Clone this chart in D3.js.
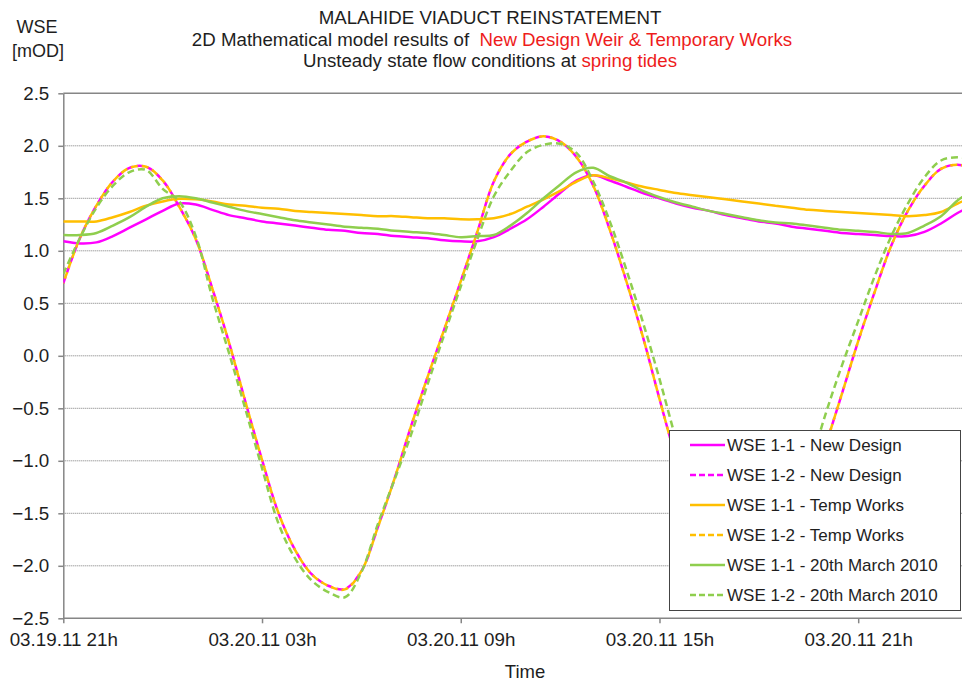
<!DOCTYPE html>
<html lang="en">
<head>
<meta charset="UTF-8">
<title>Malahide Viaduct Reinstatement</title>
<script src="https://d3js.org/d3.v7.min.js"></script>
<style>
  body { margin: 0; background: #fff; }
  svg { display: block; font-family: "Liberation Sans", Arial, sans-serif; }
  .grid line { stroke: #7a7a7a; stroke-width: 1; stroke-dasharray: 1,1; }
  .axis path, .axis line { stroke: #868686; stroke-width: 1.5; }
  .axis text { font-size: 18.8px; fill: #1e1e1e; font-family: "Liberation Sans", Arial, sans-serif; }
</style>
</head>
<body>
<svg id="chart" width="962" height="683"></svg>
<script>
// hours after 03.19.11 21h
var hours = [0, 0.5, 1, 1.5, 2, 2.5, 3, 3.5, 4, 4.5, 5, 5.5, 6, 6.5, 7, 7.5, 8, 8.5, 9, 9.5,
  10, 10.5, 11, 11.5, 12, 12.5, 13, 13.5, 14, 14.5, 15, 15.5, 16, 16.5, 17, 17.5, 18, 18.5, 19, 19.5,
  20, 20.5, 21, 21.5, 22, 22.5, 23, 23.5, 24, 24.5, 25, 25.5, 26, 26.5, 27, 27.5];

var wse11New = [1.09, 1.07, 1.08, 1.14, 1.22, 1.30, 1.38, 1.45, 1.44, 1.39, 1.34, 1.31, 1.28, 1.26, 1.24, 1.22, 1.20, 1.19, 1.17, 1.16,
  1.14, 1.13, 1.12, 1.10, 1.09, 1.09, 1.13, 1.21, 1.30, 1.42, 1.55, 1.67, 1.72, 1.67, 1.61, 1.55, 1.50, 1.45, 1.41, 1.38,
  1.34, 1.31, 1.28, 1.26, 1.23, 1.21, 1.19, 1.17, 1.16, 1.15, 1.14, 1.14, 1.18, 1.26, 1.36, 1.44];

var wse12New = [0.69, 1.12, 1.43, 1.66, 1.79, 1.80, 1.67, 1.42, 1.11, 0.64, 0.13, -0.44, -0.99, -1.50, -1.85, -2.08, -2.19, -2.22, -2.05, -1.63,
  -1.17, -0.67, -0.20, 0.25, 0.71, 1.18, 1.66, 1.92, 2.04, 2.09, 2.04, 1.89, 1.62, 1.20, 0.71, 0.18, -0.41, -0.98, -1.48, -1.82,
  -2.03, -2.16, -2.22, -2.14, -1.80, -1.36, -0.87, -0.37, 0.14, 0.61, 1.05, 1.38, 1.62, 1.78, 1.82, 1.78];

var wse11Temp = [1.28, 1.28, 1.28, 1.32, 1.37, 1.43, 1.47, 1.495, 1.49, 1.47, 1.44, 1.43, 1.41, 1.40, 1.38, 1.37, 1.36, 1.35, 1.34, 1.33,
  1.33, 1.32, 1.31, 1.31, 1.30, 1.30, 1.31, 1.35, 1.42, 1.49, 1.57, 1.66, 1.72, 1.69, 1.65, 1.61, 1.58, 1.55, 1.53, 1.51,
  1.49, 1.47, 1.45, 1.43, 1.41, 1.39, 1.38, 1.37, 1.36, 1.35, 1.34, 1.33, 1.34, 1.37, 1.45, 1.52];

var wse12Temp = [0.69, 1.12, 1.43, 1.66, 1.79, 1.80, 1.67, 1.42, 1.11, 0.64, 0.13, -0.44, -0.99, -1.50, -1.85, -2.08, -2.19, -2.225, -2.05, -1.63,
  -1.17, -0.67, -0.20, 0.25, 0.71, 1.18, 1.66, 1.92, 2.04, 2.09, 2.04, 1.89, 1.62, 1.20, 0.71, 0.18, -0.41, -0.98, -1.48, -1.82,
  -2.03, -2.16, -2.22, -2.14, -1.80, -1.36, -0.87, -0.37, 0.14, 0.61, 1.05, 1.38, 1.62, 1.78, 1.82, 1.78];

var wse11Mar = [1.15, 1.15, 1.17, 1.24, 1.32, 1.42, 1.50, 1.52, 1.50, 1.46, 1.42, 1.38, 1.35, 1.32, 1.29, 1.27, 1.25, 1.23, 1.22, 1.21,
  1.19, 1.18, 1.17, 1.15, 1.13, 1.14, 1.15, 1.24, 1.36, 1.50, 1.63, 1.75, 1.79, 1.71, 1.65, 1.57, 1.51, 1.46, 1.42, 1.38,
  1.35, 1.32, 1.29, 1.27, 1.26, 1.24, 1.22, 1.20, 1.19, 1.18, 1.16, 1.17, 1.24, 1.33, 1.48, 1.58];

var wse12Mar = [0.78, 1.12, 1.41, 1.62, 1.75, 1.77, 1.59, 1.47, 1.14, 0.55, 0.03, -0.51, -1.07, -1.60, -1.93, -2.14, -2.25, -2.30, -2.06, -1.60,
  -1.18, -0.75, -0.27, 0.20, 0.66, 1.11, 1.52, 1.76, 1.94, 2.01, 2.02, 1.93, 1.66, 1.28, 0.82, 0.32, -0.22, -0.80, -1.35, -1.75,
  -2.05, -2.22, -2.30, -2.10, -1.60, -1.10, -0.57, -0.10, 0.33, 0.76, 1.14, 1.45, 1.70, 1.86, 1.89, 1.87];

var seriesNames = ["WSE 1-1 - New Design", "WSE 1-2 - New Design", "WSE 1-1 - Temp Works",
  "WSE 1-2 - Temp Works", "WSE 1-1 - 20th March 2010", "WSE 1-2 - 20th March 2010"];

var xTickHours = [0, 6, 12, 18, 24];
var xTickLabels = ["03.19.11 21h", "03.20.11 03h", "03.20.11 09h", "03.20.11 15h", "03.20.11 21h"];
var yTicks = [-2.5, -2, -1.5, -1, -0.5, 0, 0.5, 1, 1.5, 2, 2.5];

var series = [
  { name: seriesNames[0], values: wse11New, color: "#ff00ff", dash: null, offset: 0 },
  { name: seriesNames[1], values: wse12New, color: "#ff00ff", dash: "7,4", offset: 0 },
  { name: seriesNames[2], values: wse11Temp, color: "#ffbf00", dash: null, offset: 0 },
  { name: seriesNames[3], values: wse12Temp, color: "#ffbf00", dash: "7,4", offset: 6 },
  { name: seriesNames[4], values: wse11Mar, color: "#8fce4e", dash: null, offset: 0 },
  { name: seriesNames[5], values: wse12Mar, color: "#8fce4e", dash: "7,4", offset: 0 }
];

var svg = d3.select("#chart");
var plotLeft = 63.3, plotRight = 962, plotTop = 93.3, plotBottom = 618.3;

var x = d3.scaleLinear().domain([0, 24]).range([plotLeft, 858.2]);
var y = d3.scaleLinear().domain([-2.5, 2.5]).range([plotBottom, plotTop]);

// titles
var titles = svg.append("g").attr("text-anchor", "middle").style("font-size", "18.7px").attr("fill", "#1e1e1e");
titles.append("text").attr("x", 490).attr("y", 24).text("MALAHIDE VIADUCT REINSTATEMENT");
var t2 = titles.append("text").attr("x", 492).attr("y", 46);
t2.append("tspan").text("2D Mathematical model results of\u00a0\u00a0");
t2.append("tspan").attr("fill", "#ee1c1c").text("New Design Weir & Temporary Works");
var t3 = titles.append("text").attr("x", 490).attr("y", 67);
t3.append("tspan").text("Unsteady state flow conditions at ");
t3.append("tspan").attr("fill", "#ee1c1c").text("spring tides");

svg.append("text").attr("x", 37).attr("y", 33).attr("text-anchor", "middle")
  .style("font-size", "18px").attr("fill", "#1e1e1e").text("WSE");
svg.append("text").attr("x", 38).attr("y", 57).attr("text-anchor", "middle")
  .style("font-size", "18px").attr("fill", "#1e1e1e").text("[mOD]");

// gridlines
svg.append("g").attr("class", "grid")
  .selectAll("line")
  .data(yTicks.filter(function (v) { return v > -2.5 && v < 2.5; }))
  .enter().append("line")
  .attr("x1", plotLeft).attr("x2", plotRight)
  .attr("y1", function (d) { return y(d); })
  .attr("y2", function (d) { return y(d); });

svg.append("line")
  .attr("x1", plotLeft).attr("x2", plotRight)
  .attr("y1", y(2.5)).attr("y2", y(2.5))
  .attr("stroke", "#868686").attr("stroke-width", 1.5);

// axes
var yAxis = d3.axisLeft(y).tickValues(yTicks).tickSize(5).tickSizeOuter(0).tickPadding(9)
  .tickFormat(d3.format(".1f"));
svg.append("g").attr("class", "axis").attr("transform", "translate(" + plotLeft + ",0)").call(yAxis);

var xAxis = d3.axisBottom(x).tickValues(xTickHours).tickSize(5).tickSizeOuter(0).tickPadding(9)
  .tickFormat(function (d, i) { return xTickLabels[i]; });
var xg = svg.append("g").attr("class", "axis").attr("transform", "translate(0," + plotBottom + ")").call(xAxis);
xg.select("path.domain").attr("d", "M" + plotLeft + ",0H" + plotRight);

svg.append("text").attr("x", 525).attr("y", 678).attr("text-anchor", "middle")
  .style("font-size", "18.5px").attr("fill", "#1e1e1e").text("Time");

// lines
var line = d3.line()
  .x(function (d, i) { return x(hours[i]); })
  .y(function (d) { return y(d); })
  .curve(d3.curveCatmullRom.alpha(0.5));

svg.append("defs").append("clipPath").attr("id", "plotClip")
  .append("rect").attr("x", plotLeft).attr("y", plotTop - 5)
  .attr("width", plotRight - plotLeft).attr("height", plotBottom - plotTop + 5);

svg.append("g").attr("clip-path", "url(#plotClip)")
  .selectAll("path")
  .data(series)
  .enter().append("path")
  .attr("d", function (d) { return line(d.values); })
  .attr("fill", "none")
  .attr("stroke", function (d) { return d.color; })
  .attr("stroke-width", 2.5)
  .attr("stroke-dasharray", function (d) { return d.dash; })
  .attr("stroke-dashoffset", function (d) { return d.offset; })
  .attr("stroke-linejoin", "round");

// legend
var legend = svg.append("g").attr("transform", "translate(669,430)");
legend.append("rect").attr("x", 0.5).attr("y", 0.5).attr("width", 291).attr("height", 180)
  .attr("fill", "#fff").attr("stroke", "#444").attr("stroke-width", 1);

var rows = legend.selectAll("g.row").data(series).enter().append("g")
  .attr("class", "row")
  .attr("transform", function (d, i) { return "translate(0," + (15 + i * 30) + ")"; });
rows.append("line").attr("x1", 21).attr("x2", 56).attr("y1", 0).attr("y2", 0)
  .attr("stroke", function (d) { return d.color; })
  .attr("stroke-width", 2.5)
  .attr("stroke-dasharray", function (d) { return d.dash ? "6,3" : null; });
rows.append("text").attr("x", 58).attr("y", 6)
  .style("font-size", "17px").attr("fill", "#1e1e1e")
  .text(function (d) { return d.name; });
</script>
</body>
</html>
